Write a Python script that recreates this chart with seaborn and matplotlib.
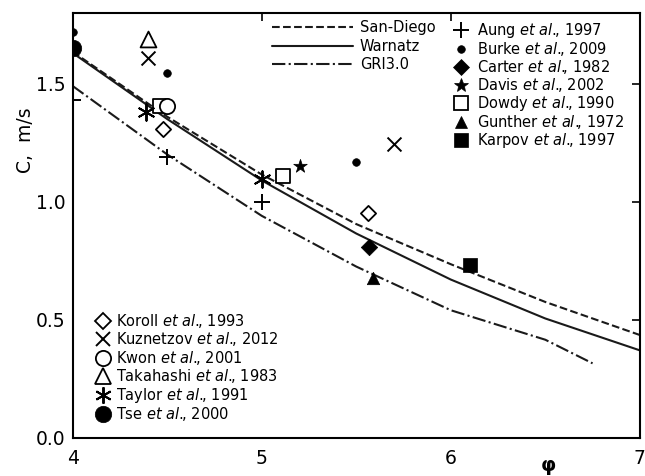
import matplotlib
matplotlib.use("Agg")
import matplotlib.pyplot as plt
from matplotlib.lines import Line2D
import seaborn as sns
import numpy as np

# ---------------- data ----------------
phi_model = [4.0, 4.5, 5.0, 5.5, 6.0, 6.5, 7.0]
san_diego = [1.635, 1.36, 1.115, 0.905, 0.735, 0.575, 0.435]
warnatz = [1.63, 1.35, 1.09, 0.865, 0.67, 0.505, 0.37]
phi_gri = [4.0, 4.5, 5.0, 5.5, 6.0, 6.5, 6.75]
gri30 = [1.49, 1.20, 0.94, 0.725, 0.54, 0.415, 0.315]

aung_x, aung_y = [4.0, 4.5, 5.0], [1.43, 1.19, 1.0]
burke_x, burke_y = [4.0, 4.5, 5.5], [1.72, 1.545, 1.17]
carter_x, carter_y = [5.57], [0.81]
davis_x, davis_y = [5.2], [1.15]
dowdy_x, dowdy_y = [4.46, 5.11], [1.405, 1.11]
gunther_x, gunther_y = [5.59], [0.676]
karpov_x, karpov_y = [6.1], [0.73]
koroll_x, koroll_y = [4.48, 5.56], [1.31, 0.95]
kuzn_x, kuzn_y = [4.4, 5.7], [1.61, 1.245]
kwon_x, kwon_y = [4.5], [1.405]
taka_x, taka_y = [4.4], [1.69]
taylor_x, taylor_y = [4.39, 5.0], [1.38, 1.095]
tse_x, tse_y = [4.0], [1.65]

line_labels = ["San-Diego", "Warnatz", "GRI3.0"]
ea = r"$\mathit{et\ al.}\!\!$,"
labels1 = [f"Aung {ea} 1997", f"Burke {ea} 2009", f"Carter {ea} 1982",
           f"Davis {ea} 2002", f"Dowdy {ea} 1990", f"Gunther {ea} 1972",
           f"Karpov {ea} 1997"]
labels2 = [f"Koroll {ea} 1993", f"Kuznetzov {ea} 2012", f"Kwon {ea} 2001",
           f"Takahashi {ea} 1983", f"Taylor {ea} 1991", f"Tse {ea} 2000"]

# ---------------- style ----------------
sns.set_theme(style="white")
plt.rcParams["font.family"] = ["DejaVu Sans"]
plt.rcParams["mathtext.fontset"] = "dejavusans"
plt.rcParams["text.color"] = "black"
plt.rcParams["axes.labelcolor"] = "black"

fig = plt.figure(figsize=(6.45, 4.76), dpi=100)
ax = fig.add_axes([0.1127, 0.0805, 0.992 - 0.1127, 0.973 - 0.0805])

lw = 1.5
sns.lineplot(x=phi_model, y=san_diego, ax=ax, color="k", lw=lw, linestyle="--", legend=False)
sns.lineplot(x=phi_model, y=warnatz, ax=ax, color="k", lw=lw, linestyle="-", legend=False)
sns.lineplot(x=phi_gri, y=gri30, ax=ax, color="k", lw=lw, linestyle="-.", legend=False)

ASTER = (6, 2, 0)
# (x, y, marker, size, kind)
series = [
    (aung_x, aung_y, "+", 130, "line"),
    (burke_x, burke_y, "o", 30, "filled"),
    (carter_x, carter_y, "D", 70, "filled"),
    (davis_x, davis_y, "*", 105, "filled"),
    (dowdy_x, dowdy_y, "s", 100, "open"),
    (gunther_x, gunther_y, "^", 80, "filled"),
    (karpov_x, karpov_y, "s", 110, "filled"),
    (koroll_x, koroll_y, "D", 60, "open"),
    (kuzn_x, kuzn_y, "x", 100, "line"),
    (kwon_x, kwon_y, "o", 120, "open"),
    (taka_x, taka_y, "^", 130, "open"),
    (taylor_x, taylor_y, ASTER, 140, "line"),
    (tse_x, tse_y, "o", 140, "filled"),
]
for xs, ys, m, s, kind in series:
    if kind == "open":
        sns.scatterplot(x=xs, y=ys, ax=ax, marker=m, s=s, color="white",
                        edgecolor="black", linewidth=1.3, zorder=3, legend=False)
    elif kind == "filled":
        sns.scatterplot(x=xs, y=ys, ax=ax, marker=m, s=s, color="black",
                        edgecolor="black", linewidth=0.5, zorder=3, legend=False)
    else:
        sns.scatterplot(x=xs, y=ys, ax=ax, marker=m, s=s, color="black",
                        linewidth=1.4, zorder=3, legend=False)

ax.set_xlim(4, 7)
ax.set_ylim(0, 1.8)
ax.set_xticks([4, 5, 6, 7])
ax.set_xticklabels(["4", "5", "6", "7"])
ax.set_yticks([0.0, 0.5, 1.0, 1.5])
ax.set_yticklabels(["0.0", "0.5", "1.0", "1.5"])
ax.tick_params(axis="both", direction="in", length=6, width=1.2, labelsize=13.5,
               top=True, right=True, colors="black")
ax.tick_params(axis="x", pad=8)
ax.tick_params(axis="y", pad=5)
for sp in ax.spines.values():
    sp.set_color("black")
    sp.set_linewidth(1.5)

ax.set_ylabel("C,  m/s", fontsize=13.5, color="black")
ax.yaxis.set_label_coords(-0.066, 0.70)
ax.set_xlabel("φ", fontsize=14, fontweight="bold", color="black")
ax.xaxis.set_label_coords(0.838, -0.042)

# ---------------- legends ----------------
fs = 10.5
lh = [Line2D([], [], color="k", lw=lw, ls=ls) for ls in ["--", "-", "-."]]
leg0 = ax.legend(lh, line_labels, loc="upper left", bbox_to_anchor=(0.351, 0.983),
                 frameon=False, fontsize=fs, handlelength=5.6, handletextpad=0.45,
                 labelspacing=0.25, borderpad=0, borderaxespad=0, labelcolor="black")
ax.add_artist(leg0)


def handle(m, s, kind):
    ms = np.sqrt(s)
    if kind == "open":
        return Line2D([], [], ls="", marker=m, markersize=ms, markerfacecolor="white",
                      markeredgecolor="black", markeredgewidth=1.3)
    if kind == "filled":
        return Line2D([], [], ls="", marker=m, markersize=ms, markerfacecolor="black",
                      markeredgecolor="black", markeredgewidth=0.5)
    return Line2D([], [], ls="", marker=m, markersize=ms, color="black",
                  markeredgewidth=1.4)


h1 = [handle(m, s, k) for _, _, m, s, k in series[:7]]
h2 = [handle(m, s, k) for _, _, m, s, k in series[7:]]
leg1 = ax.legend(h1, labels1, loc="upper left", bbox_to_anchor=(0.6715, 0.981),
                 frameon=False, fontsize=fs, handlelength=1.0, handletextpad=0.6,
                 labelspacing=0.0, borderpad=0, borderaxespad=0, labelcolor="black")
ax.add_artist(leg1)
leg2 = ax.legend(h2, labels2, loc="upper left", bbox_to_anchor=(0.0405, 0.296),
                 frameon=False, fontsize=fs, handlelength=1.0, handletextpad=0.4,
                 labelspacing=0.03, borderpad=0, borderaxespad=0, labelcolor="black")

fig.savefig("out.png", dpi=100)
